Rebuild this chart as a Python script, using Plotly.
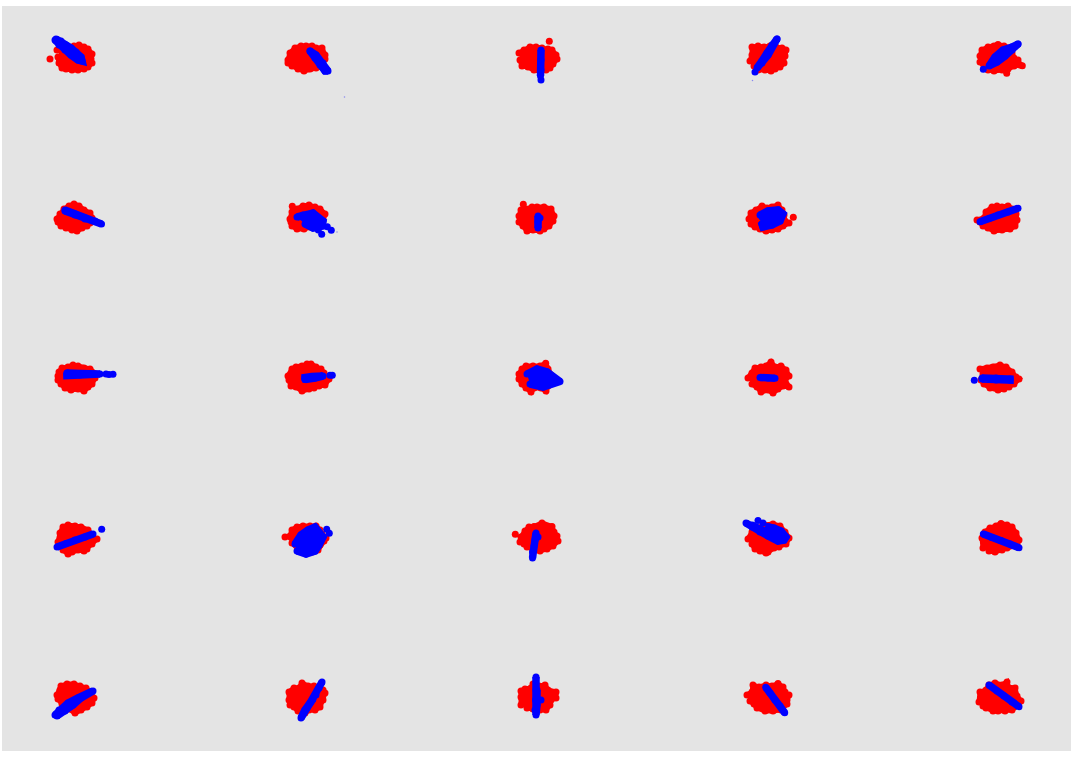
import plotly.graph_objects as go

# Values; x/y are on a plain axis spanning the panel.
N = None
red_1_1 = [(62,52),(68,48),(74,46),(79,45),(84,47),(88,49),(92,54),(91,59),(92,63),(88,67),(84,69),(78,70),(72,70),(66,69),(62,68),(59,63),(58,57),N,(50,59),N,(57,50)]
red_1_2 = [(288,60),(290,53),(295,48),(301,46),(306,46),(312,46),(316,48),(322,48),(325,55),(325,59),(322,63),(322,67),(316,68),(310,69),(304,71),(298,69),(292,66),(288,63)]
red_1_3 = [(519,53),(524,50),(530,47),(536,47),(542,48),(548,49),(552,50),(556,55),(557,59),(553,64),(550,68),(546,70),(540,71),(534,70),(528,67),(522,66),(520,60),N,(549.3,41.3)]
red_1_4 = [(750,61),(752,55),(752,47),(758,46),(764,47),(770,46),(776,47),(782,48),(786,50),(785,56),(783,60),(784,63),(780,67),(775,69),(771,71),(765,70),(758,70),(754,66)]
red_1_5 = [(980,56),(982,50),(988,47),(994,46),(998,44.5),(1004,46),(1010,48),(1012,53),(1014,58),(1018,60),(1020,65),(1014,66),(1008,69),(1002,70),(994,71),(988,70),(984,66),(980,62),N,(1022.3,65.7),N,(1006.7,73.3)]
red_2_1 = [(57,219),(60,214),(64,209),(69,206),(74,204),(79,206),(84,210),(90,213),(92,218),(90,223),(87,226),(82,228),(77,231),(72,230),(66,228),(61,226),(58,222)]
red_2_2 = [(290,219),(292,212),(297,209),(303,206),(309,205),(315,207),(320,209),(325,214),(323,218),(322,222),(316,225),(310,227),(304,229),(297,229),(292,226),(291,222),N,(292.3,206.3)]
red_2_3 = [(519,216),(521,210),(526,209),(532,207),(537,207),(544,207),(551,209),(554,216),(553,221),(549,226),(544,229),(540,231),(533,230),(527,231),(523,226),(519,222),N,(523.3,204.3)]
red_2_4 = [(749,219),(751,213),(756,210),(762,206),(767,208),(772,207),(778,205),(782,210),(784,215),(785,221),(789,223),(783,226),(778,229),(772,230),(766,231),(760,229),(755,227),(751,224),N,(793.3,217.3)]
red_2_5 = [(977,220),(984,218),(986,212),(992,207),(997,206),(1002,207),(1008,206),(1012,209),(1016,214),(1017,220),(1015,226),(1010,229),(1002,230),(994,231),(988,228),(983,226),(980,222)]
red_3_1 = [(59,372),(62,368),(68,367),(73,365),(78,366),(84,368),(90,369),(96,374),(95,378),(92,384),(88,387),(84,391),(78,389),(71,390),(65,388),(61,384),(58,380),(58,376)]
red_3_2 = [(288,376),(292,369),(296,367),(302,366),(307,364),(311,364),(316,367),(321,369),(324,373),(325,378),(329,379),(325,385),(319,386),(314,388),(309,389),(302,391),(296,387),(291,386),(289,380)]
red_3_3 = [(519,374),(522,369),(526,366),(533,366),(540,366),(545.7,363.3),(548,369),(551,375),(552,381),(548,386),(546,391),(541,388),(534,388),(531,392),(526,388),(522,384),(519,379)]
red_3_4 = [(748,378),(752,373),(755,368),(761,367),(766,366),(771,362),(775,367),(781,366),(786,370),(789,376),(785,380),(789,387),(783,386),(778,389),(773,393),(768,390),(761,392),(757,387),(752,384)]
red_3_5 = [(980,369),(987,368),(993,367),(1000,365),(1006,367),(1012,372),(1016,377),(1019,379),(1014,384),(1009,387),(1004,389),(998,390),(990,388),(984,384),(981,380),(983,374)]
red_4_1 = [(58,542),(60,533),(63,527),(68,525),(75,526),(81,527),(88,530),(92,535),(94,539),(97,539),(92,544),(87,549),(84,551),(78,550),(72,552),(68,554),(63,550),(60,546)]
red_4_2 = [(285,537),(290,536),(292,530),(297,527),(303,526),(310,526),(316,526),(320,530),(322,534),(326,538),(324,541),(320,545),(318,550),(312,552),(305,552),(298,549),(292,543)]
red_4_3 = [(520,542),(521,537),(525,531),(529,527),(534,526.5),(542,523),(552,526.5),(554,532),(557,536),(558,541),(553,546),(547,549),(540,551),(533,549),(527,547),(524,544),N,(515.3,534.3)]
red_4_4 = [(748,539),(752,532),(758,528),(764,525),(773,524),(780,526),(785,532),(789,538),(786,544),(779,547),(774,548),(768,552),(766,553),(760,551),(755,549),(752,544)]
red_4_5 = [(983,548),(982,538),(985,532),(990,528),(996,526),(1001,523.5),(1007,525),(1012,527),(1016,533),(1019,540),(1017,545),(1007,548),(1002,550),(995,552),(989,551)]
red_5_1 = [(57,695),(60,690),(61,686),(67,684),(74,684),(80,686),(86,688),(90,692),(94,698),(92,703),(87,707),(81,710),(75,713),(69,709),(62,704),(58,699)]
red_5_2 = [(289,700),(289,692),(294,688),(299,688),(302,683),(308,686),(314,686),(318,688),(323,690),(325,693),(323,700),(320,707),(315,710),(309,710),(305,713),(298,711),(294,707),(290,705)]
red_5_3 = [(521,705),(521,697),(521,691),(525,689),(531,688),(533,684),(539,686),(545,685),(548,690),(556,692),(556,698),(551,700),(550,705),(546,710),(540,710),(533,709),(527,708)]
red_5_4 = [(747,695),(752,692),(753,685),(759,687),(766,685),(772,686),(778,683.5),(783,687),(785,692),(786,696),(789,695),(787,700),(787,704),(781,710),(773,711),(765,711),(757,708),(754,704),(750,701)]
red_5_5 = [(979,702),(980,692),(986,690),(989,685),(995,683),(1002,685),(1007,682),(1008,687),(1015,688),(1017,696),(1021,701),(1018,705),(1012,710),(1005,711),(998,711),(993,711),(986,708),(983,706)]

blue_1_1 = [(56,39),(61,41),(66,45),(71,48),(76,52),(81,57),(82,61),(78,60),(71,55),(65,50),(59,45),(55,40)]
blue_1_2 = [(310,51),(315,58),(320,65),(325,71),(328,71),(323,63),(316,55),(310,51)]
blue_1_3 = [(541,50),(541,60),(541,70),(540.5,76),N,(541,80)]
blue_1_4 = [(777,39),(772,45),(767,53),(762,61),(757,68),(762,63),(768,55),(777,39),N,(755,72)]
blue_1_5 = [(1018,44),(1012,50),(1005,56),(997,62),(989,66),(995,57),(1003,50),(1012,47),(1018,44),N,(983.3,69.3)]
blue_2_1 = [(65,210),(75,214),(85,218),(95,221),(101.5,224),(85,219),(75,215),(65,211)]
blue_2_2 = [(297,217),(303,215),(313,213),(323,221),(322,226),(313,228),(305,224),N,(321.7,234.3),N,(327.3,226.7),N,(331.3,230.3),N,(318.3,230)]
blue_2_3 = [(538,216),(538,222),(538,228),N,(540,218)]
blue_2_4 = [(760,215),(768,211),(778,210),(783,214),(780,221),(772,225),(763,227),(762,224),(767,219),(762,217)]
blue_2_5 = [(1018,208.3),(1008,212),(998,215),(989,218.5),(980,221.7)]
blue_3_1 = [(67,373),(67,375.5),(80,375),(90,374.5),(100,374),(80,373.5),(67,373),N,(106,374),N,(109,374.5),N,(113,374.3)]
blue_3_2 = [(305,379.5),(305,377.5),(312,376.5),(323,376),(315,378),(305,379.5),N,(330,375.3),N,(332.3,375.3)]
blue_3_3 = [(527,374),(537,369),(547,372),(560,381.5),(543,387),(530,384)]
blue_3_4 = [(760,377.5),(768,378),(775,378.3)]
blue_3_5 = [(982,378),(996,378),(1010,379),(1010,380),(996,380),(982,379),N,(974.3,380.3)]
blue_4_1 = [(57,547),(66,543.5),(75,540),(85,537),(93,534),N,(101.7,529.3)]
blue_4_2 = [(295,544),(301,535),(308,530),(315,527),(319,532),(323,537),(319,545),(315,551),(306,554),(297,551),N,(326.7,529.3),N,(329.3,533.3)]
blue_4_3 = [(536,533),(535,540),(534,546),(532.5,552),(532.5,558),N,(538,537)]
blue_4_4 = [(746,523),(752,527),(760,532),(768,536),(778,541),(784,540),(786,537),(781,531),(774,528),(769,527),(768,530),(770,534),(760,529),(752,525),N,(758,520.5),N,(763,523)]
blue_4_5 = [(983.3,534),(992,537.5),(1001,540.5),(1010,544),(1019,547.7)]
blue_5_1 = [(57,716),(65,711),(73,705),(81,698),(93,691),(78,698),(68,703),(59,710),(55,715)]
blue_5_2 = [(322,682),(319,688),(316,695),(310,703),(305,710),(301,718),(307,708),(313,699)]
blue_5_3 = [(536,677),(536,690),(535.5,700),(535,710),(536,715),(537,705),(537,690),N,(541,700)]
blue_5_4 = [(765.7,687.3),(770,693),(775,700),(780,706),(784.7,712.7)]
blue_5_5 = [(989,685),(997,691),(1004,696),(1012,702),(1019,706.7)]
blue_specks = [(344.5,97),N,(752.5,80.5),N,(337,232)]

red_clusters = [red_1_1, red_1_2, red_1_3, red_1_4, red_1_5, red_2_1, red_2_2, red_2_3, red_2_4, red_2_5,
                red_3_1, red_3_2, red_3_3, red_3_4, red_3_5, red_4_1, red_4_2, red_4_3, red_4_4, red_4_5,
                red_5_1, red_5_2, red_5_3, red_5_4, red_5_5]
blue_clusters = [blue_1_1, blue_1_2, blue_1_3, blue_1_4, blue_1_5, blue_2_1, blue_2_2, blue_2_3, blue_2_4, blue_2_5,
                 blue_3_1, blue_3_2, blue_3_3, blue_3_4, blue_3_5, blue_4_1, blue_4_2, blue_4_3, blue_4_4, blue_4_5,
                 blue_5_1, blue_5_2, blue_5_3, blue_5_4, blue_5_5]


def unpack(clusters):
    xs, ys = [], []
    for c in clusters:
        for p in list(c) + [None]:
            xs.append(None if p is None else p[0])
            ys.append(None if p is None else p[1])
    return xs, ys


fig = go.Figure()
rx, ry = unpack(red_clusters)
bx, by = unpack(blue_clusters)
sx, sy = unpack([blue_specks])
fig.add_trace(go.Scatter(x=rx, y=ry, mode="lines+markers", fill="toself", fillcolor="#ff0000",
                         line=dict(color="#ff0000", width=5), marker=dict(color="#ff0000", size=7),
                         showlegend=False, hoverinfo="skip"))
fig.add_trace(go.Scatter(x=bx, y=by, mode="lines+markers", fill="toself", fillcolor="#0000ff",
                         line=dict(color="#0000ff", width=7.5), marker=dict(color="#0000ff", size=7),
                         showlegend=False, hoverinfo="skip"))
fig.add_trace(go.Scatter(x=sx, y=sy, mode="markers", opacity=0.4,
                         marker=dict(color="#0000ff", size=1.5), showlegend=False, hoverinfo="skip"))
axis = dict(visible=False, showgrid=False, zeroline=False, fixedrange=True)
fig.update_layout(width=1074, height=757, margin=dict(l=2, r=3, t=6, b=6),
                  paper_bgcolor="#ffffff", plot_bgcolor="#e4e4e4",
                  xaxis=dict(range=[2, 1071], **axis),
                  yaxis=dict(range=[751, 6], **axis))
fig.write_html("out.html", post_script="document.body.style.margin='0';", config={"displayModeBar": False})
